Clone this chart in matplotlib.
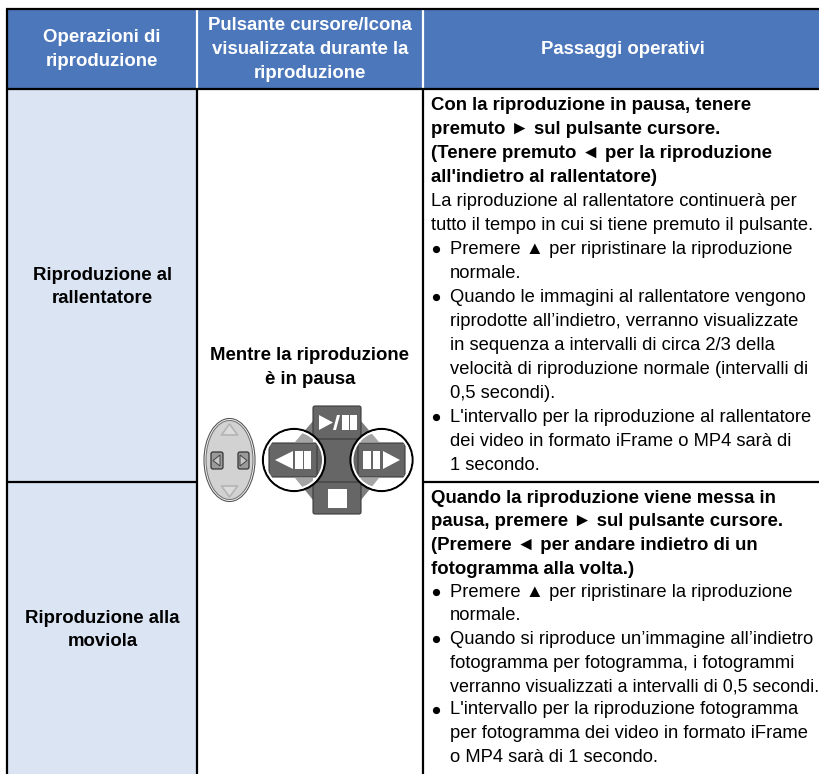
import matplotlib
matplotlib.use('Agg')
import matplotlib.pyplot as plt
from matplotlib.patches import Rectangle, FancyBboxPatch, Polygon, Circle, Ellipse

plt.rcParams['font.family'] = ['Liberation Sans', 'DejaVu Sans']

W, H = 820, 774
BLUE = '#4c77ba'
LIGHT = '#dbe4f3'
GREY = '#666666'
FS_B = 13.4
FS_R = 13.25
RIGHT_LIMIT = 816

headers = ['Operazioni di\nriproduzione',
           'Pulsante cursore/Icona\nvisualizzata durante la\nriproduzione',
           'Passaggi operativi']
row_names = ['Riproduzione al\nrallentatore', 'Riproduzione alla\nmoviola']
middle_title = 'Mentre la riproduzione\nè in pausa'

# (text, bold, indented, bullet)
steps_top = [
    ('Con la riproduzione in pausa, tenere', True, False, False),
    ('premuto ► sul pulsante cursore.', True, False, False),
    ('(Tenere premuto ◄ per la riproduzione', True, False, False),
    ("all'indietro al rallentatore)", True, False, False),
    ('La riproduzione al rallentatore continuerà per', False, False, False),
    ('tutto il tempo in cui si tiene premuto il pulsante.', False, False, False),
    ('Premere ▲ per ripristinare la riproduzione', False, True, True),
    ('normale.', False, True, False),
    ('Quando le immagini al rallentatore vengono', False, True, True),
    ('riprodotte all’indietro, verranno visualizzate', False, True, False),
    ('in sequenza a intervalli di circa 2/3 della', False, True, False),
    ('velocità di riproduzione normale (intervalli di', False, True, False),
    ('0,5 secondi).', False, True, False),
    ("L'intervallo per la riproduzione al rallentatore", False, True, True),
    ('dei video in formato iFrame o MP4 sarà di', False, True, False),
    ('1 secondo.', False, True, False),
]
steps_bottom = [
    ('Quando la riproduzione viene messa in', True, False, False),
    ('pausa, premere ► sul pulsante cursore.', True, False, False),
    ('(Premere ◄ per andare indietro di un', True, False, False),
    ('fotogramma alla volta.)', True, False, False),
    ('Premere ▲ per ripristinare la riproduzione', False, True, True),
    ('normale.', False, True, False),
    ('Quando si riproduce un’immagine all’indietro', False, True, True),
    ('fotogramma per fotogramma, i fotogrammi', False, True, False),
    ('verranno visualizzati a intervalli di 0,5 secondi.', False, True, False),
    ("L'intervallo per la riproduzione fotogramma", False, True, True),
    ('per fotogramma dei video in formato iFrame', False, True, False),
    ('o MP4 sarà di 1 secondo.', False, True, False),
]

fig = plt.figure(figsize=(W / 100, H / 100), dpi=100)
ax = fig.add_axes([0, 0, 1, 1])
ax.set_xlim(0, W)
ax.set_ylim(H, 0)
ax.axis('off')

X0, X1, X2, X3 = 7, 197, 423.5, 820
Y0, Y1, Y2, Y3 = 9, 88.5, 481.5, 774

ax.add_patch(Rectangle((X0, Y0), X3 - X0, Y1 - Y0, fc=BLUE, ec='none'))
ax.add_patch(Rectangle((X0, Y1), X1 - X0, Y3 - Y1, fc=LIGHT, ec='none'))

def hl(y, a, b, c='black', lw=1.6):
    ax.plot([a, b], [y, y], color=c, lw=lw, solid_capstyle='butt')
def vl(x, a, b, c='black', lw=1.6):
    ax.plot([x, x], [a, b], color=c, lw=lw, solid_capstyle='butt')

vl(X1, Y0, Y1, 'white'); vl(X2, Y0, Y1, 'white')
hl(Y0, X0 - 1, X3); hl(Y1, X0, X3)
hl(Y2, X0, X1); hl(Y2, X2, X3)
vl(X0, Y0, Y3)
vl(X1, Y1, Y3); vl(X2, Y1, Y3)

centres = [102, 310, 622.5]
LS = 1.53
for cx, t in zip(centres, headers):
    ax.text(cx, 49.5, t, color='white', weight='bold', fontsize=FS_B, ha='center',
            va='center', linespacing=LS)
for cy, t in zip([287, 630], row_names):
    ax.text(centres[0] + 0.5, cy, t, weight='bold', fontsize=FS_B, ha='center', va='center',
            linespacing=LS)
ax.text(centres[1], 367.5, middle_title, weight='bold', fontsize=FS_B, ha='center',
        va='center', linespacing=LS)

renderer = fig.canvas.get_renderer()

def draw_steps(lines, y_start, step):
    for i, (text, bold, indent, bullet) in enumerate(lines):
        y = y_start + i * step
        x = 450 if indent else 431
        size = FS_B if bold else FS_R
        t = ax.text(x, y, text, fontsize=size,
                    weight='bold' if bold else 'normal', va='baseline', ha='left')
        # Shrink any line that would run past the right edge of the column
        right = t.get_window_extent(renderer).x1
        if right > RIGHT_LIMIT:
            t.set_fontsize(size * (RIGHT_LIMIT - x) / (right - x))
        if bullet:
            ax.plot([436], [y - 5], 'o', color='black', ms=5.2, mew=0)

draw_steps(steps_top, 110, 24.0)
draw_steps(steps_bottom, 503, 23.5)

# Cursor-button joystick icon
JX, JY = 229.5, 460
ax.add_patch(Ellipse((JX, JY), 51, 83, fc='white', ec='#555555', lw=0.8))
ax.add_patch(Ellipse((JX, JY), 47, 79, fc='#d2d2d2', ec='#777777', lw=0.8))
for a, b, c in [((JX, 424), (JX - 8, 435), (JX + 8, 435)), ((JX, 497), (JX - 8, 486), (JX + 8, 486))]:
    ax.add_patch(Polygon([a, b, c], fc='#dcdcdc', ec='#b4b4b4', lw=1.2, joinstyle='round'))
ax.add_patch(FancyBboxPatch((213, 454), 8, 13, boxstyle='round,pad=2', fc='#9a9a9a', ec='#333333', lw=0.9))
ax.add_patch(FancyBboxPatch((240, 454), 7, 13, boxstyle='round,pad=2', fc='#9a9a9a', ec='#333333', lw=0.9))
ax.add_patch(Polygon([(213, 460.5), (220, 455), (220, 466)], fc='#c8c8c8', ec='#444444', lw=0.7, zorder=3))
ax.add_patch(Polygon([(247, 460.5), (240, 455), (240, 466)], fc='#c8c8c8', ec='#444444', lw=0.7, zorder=3))

# D-pad
for pts in ([(313, 421), (295, 442), (313, 442)], [(361, 421), (379, 442), (361, 442)],
            [(313, 500), (295, 478), (313, 478)], [(361, 500), (379, 478), (361, 478)]):
    ax.add_patch(Polygon(pts, fc='#7d7d7d', ec='none', zorder=1))
for cx in (294, 381.5):
    ax.add_patch(Circle((cx, 460), 30, fc='white', alpha=0.3, ec='none', zorder=2))
ax.add_patch(Rectangle((316, 438), 43, 45, fc=GREY, ec='none', zorder=3))
for x, y, w, h in [(313, 406, 48, 33), (313, 482, 48, 32), (269, 443, 48, 34), (358, 443, 47, 34)]:
    ax.add_patch(FancyBboxPatch((x + 2, y + 2), w - 4, h - 4, boxstyle='round,pad=2',
                                fc=GREY, ec='#3a3a3a', lw=0.8, zorder=3))
hl(439.5, 316, 358, '#bbbbbb', 0.6)
hl(481.5, 316, 358, '#bbbbbb', 0.6)
for cx in (294, 381.5):
    ax.add_patch(Circle((cx, 460), 31, fc='none', ec='black', lw=1.6, zorder=4))
    ax.add_patch(Circle((cx, 460), 29, fc='none', ec='white', lw=1.4, zorder=4))

def w_tri(pts):
    ax.add_patch(Polygon(pts, fc='white', ec='none', zorder=5))
def w_rect(x, y, w, h):
    ax.add_patch(Rectangle((x, y), w, h, fc='white', ec='none', zorder=5))

# Play/pause top button
w_tri([(319, 415), (319, 430), (333, 422.5)])
w_tri([(333, 430), (336, 430), (340, 415), (337, 415)])
w_rect(342, 415, 7, 15); w_rect(350, 415, 7, 15)
# Left button
w_tri([(275, 460), (293, 451), (293, 469)])
w_rect(295, 451, 8, 18); w_rect(304, 451, 7, 18)
# Right button
w_rect(363, 451, 8, 18); w_rect(373, 451, 7, 18)
w_tri([(383, 451), (383, 469), (400, 460)])
# Stop button
w_rect(328, 489, 19, 19)

fig.savefig('out.png', dpi=100, facecolor='white')
